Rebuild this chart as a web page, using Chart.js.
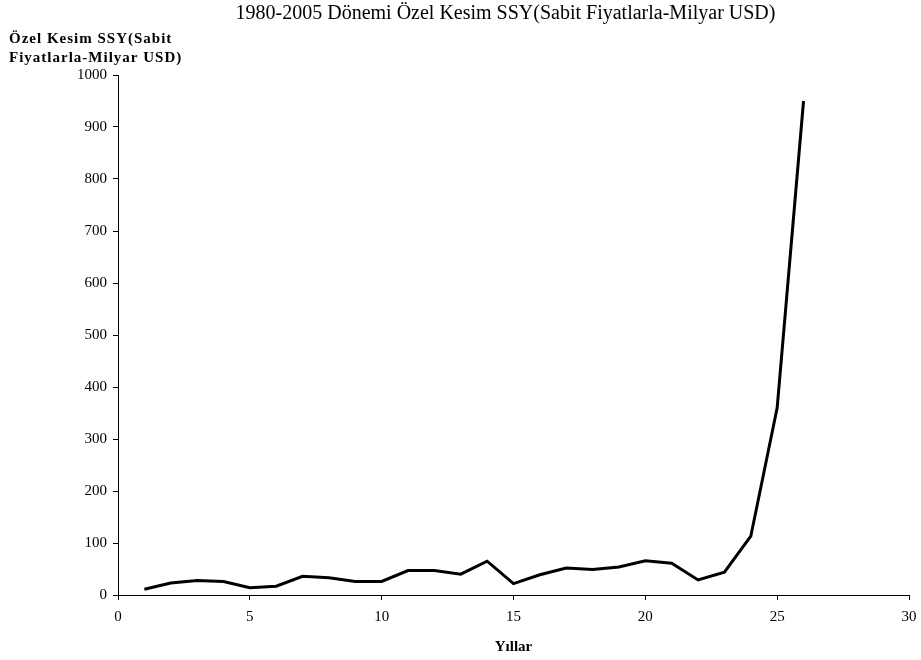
<!DOCTYPE html>
<html>
<head>
<meta charset="utf-8">
<script src="https://cdn.jsdelivr.net/npm/chart.js@4.4.1/dist/chart.umd.min.js"></script>
<style>
	html, body { margin: 0; padding: 0; background: #fff; }
	#wrap { width: 921px; height: 660px; }
</style>
</head>
<body>
<div id="wrap"><canvas id="chart-ssy"></canvas></div>
<script>
// Data
const YEARS = [1, 2, 3, 4, 5, 6, 7, 8, 9, 10, 11, 12, 13, 14, 15, 16, 17, 18, 19, 20, 21, 22, 23, 24, 25, 26];
const SSY = [11, 23, 28, 26, 14, 17, 36, 33, 26, 26, 47, 47, 40, 65, 22, 39, 52, 49, 54, 66, 61, 29, 44, 113, 360, 950];

const TITLE = "1980-2005 Dönemi Özel Kesim SSY(Sabit Fiyatlarla-Milyar USD)";
const Y_TITLE = ["Özel Kesim SSY(Sabit", "Fiyatlarla-Milyar USD)"];
const X_TITLE = "Yıllar";

const FONT = "'Liberation Serif', 'Times New Roman', serif";

// Title and horizontal y-axis caption sit in the top padding
const headerText = {
	id: "headerText",
	afterDraw(chart) {
		const { ctx, chartArea } = chart;
		ctx.save();
		ctx.fillStyle = "#000";
		ctx.textBaseline = "alphabetic";

		ctx.font = "20px " + FONT;
		ctx.textAlign = "center";
		ctx.fillText(TITLE, (chartArea.left + chartArea.right) / 2 - 8, 19);

		ctx.font = "bold 15px " + FONT;
		ctx.letterSpacing = "1px";
		ctx.textAlign = "left";
		ctx.fillText(Y_TITLE[0], 9, 43);
		ctx.fillText(Y_TITLE[1], 9, 62);
		ctx.restore();
	},
};

const CHART_DATA = {
	datasets: [
		{
			label: "SSY",
			data: YEARS.map((x, i) => ({ x: x, y: SSY[i] })),
			borderColor: "#000",
			borderWidth: 3,
			pointRadius: 0,
			tension: 0,
			fill: false,
		},
	],
};

const CHART_CONFIG = {
	type: "line",
	data: CHART_DATA,
	plugins: [headerText],
	options: {
		responsive: false,
		animation: false,
		layout: {
			padding: { top: 75, right: 12, bottom: 0, left: 0 },
		},
		plugins: {
			legend: { display: false },
			title: { display: false },
			tooltip: { enabled: false },
		},
		scales: {
			x: {
				type: "linear",
				min: 0,
				max: 30,
				afterFit: (scale) => {
					scale.height = 65;
					scale.paddingRight = 0;
					scale.paddingLeft = 0;
				},
				border: { display: true, color: "#000", width: 1 },
				grid: {
					display: true,
					drawOnChartArea: false,
					drawTicks: true,
					tickLength: 5,
					color: "#000",
				},
				ticks: {
					stepSize: 5,
					color: "#000",
					padding: 8,
					maxRotation: 0,
					font: { family: FONT, size: 15 },
				},
				title: {
					display: true,
					text: X_TITLE,
					color: "#000",
					padding: { top: 8, bottom: 4 },
					font: { family: FONT, size: 15, weight: "bold" },
				},
			},
			y: {
				min: 0,
				max: 1000,
				afterFit: (scale) => { scale.width = 118; },
				border: { display: true, color: "#000", width: 1 },
				grid: {
					display: true,
					drawOnChartArea: false,
					drawTicks: true,
					tickLength: 5,
					color: "#000",
				},
				ticks: {
					stepSize: 100,
					color: "#000",
					padding: 6,
					font: { family: FONT, size: 15 },
					callback: (value) => String(value),
				},
			},
		},
	},
};

const canvas = document.getElementById("chart-ssy");
canvas.width = 921;
canvas.height = 660;
new Chart(canvas, CHART_CONFIG);
</script>
</body>
</html>
